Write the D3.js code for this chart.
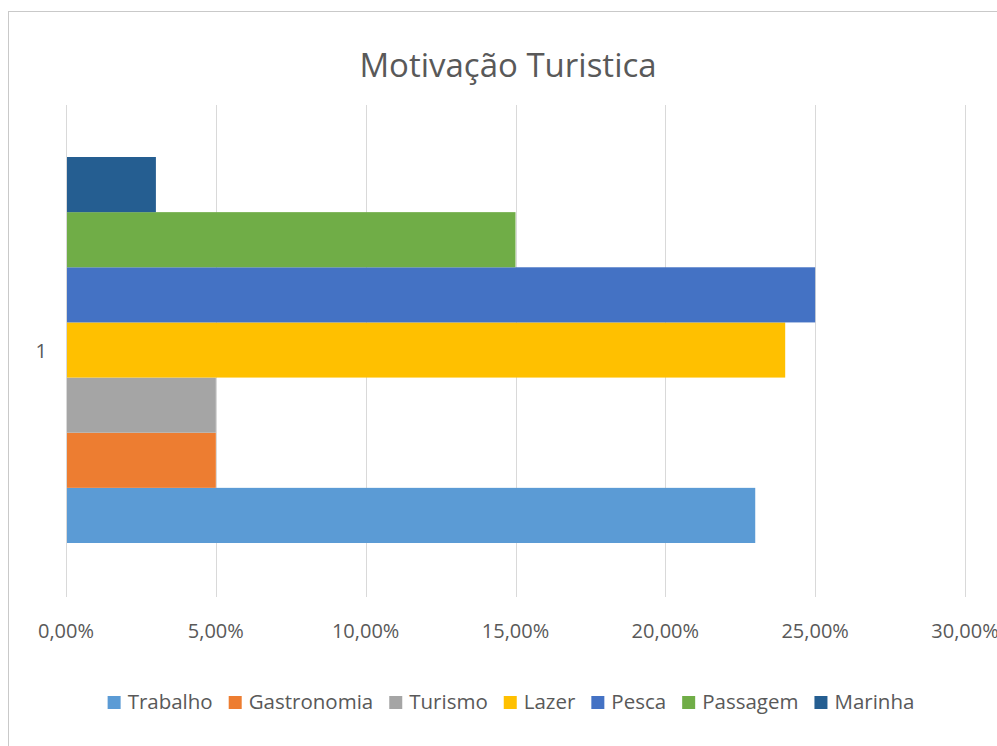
<!DOCTYPE html>
<html>
<head>
<meta charset="utf-8">
<script src="https://cdn.jsdelivr.net/npm/d3@7"></script>
<style>
  body { margin: 0; background: #fff; }
  text { font-family: "Open Sans", sans-serif; fill: #595959; }
</style>
</head>
<body>
<div id="chart"></div>
<script>
const categories = ["1"]
const series = ["Trabalho", "Gastronomia", "Turismo", "Lazer", "Pesca", "Passagem", "Marinha"]
const values = [0.23, 0.05, 0.05, 0.24, 0.25, 0.15, 0.03]
const colors = ["#5B9BD5", "#ED7D31", "#A5A5A5", "#FFC000", "#4472C4", "#70AD47", "#255E91"]
const ticks = [0, 0.05, 0.10, 0.15, 0.20, 0.25, 0.30]
const title = "Motivação Turistica"

const W = 997, H = 746
const margin = {top: 105, right: 32, bottom: 149, left: 66}
const w = W - margin.left - margin.right,
      h = H - margin.top - margin.bottom

const svg = d3.select("#chart")
    .append("svg")
    .attr("width", W)
    .attr("height", H)

// chart frame
svg.append("rect")
    .attr("x", 8.5).attr("y", 11.5)
    .attr("width", W + 20).attr("height", H + 20)
    .style("fill", "none")
    .style("stroke", "#c9c9c9")
    .style("stroke-width", 1)

svg.append("text")
    .attr("x", 508)
    .attr("y", 77)
    .attr("text-anchor", "middle")
    .style("font-size", "33px")
    .text(title)

const g = svg.append("g")
    .attr("transform", `translate(${margin.left},${margin.top})`)

const x = d3.scaleLinear().domain([0, 0.30]).range([0, w])

const y0 = d3.scaleBand().domain(categories).range([0, h])
const y1 = d3.scaleBand()
    .domain(series.slice().reverse())
    .range([52, y0.bandwidth() - 54])

// gridlines
g.append("g")
    .selectAll("line")
    .data(ticks)
    .join("line")
    .attr("x1", d => Math.round(x(d)) + 0.5)
    .attr("x2", d => Math.round(x(d)) + 0.5)
    .attr("y1", 0)
    .attr("y2", h)
    .style("stroke", "#d9d9d9")
    .style("stroke-width", 1)

const fmt = d => d3.format(".2f")(d * 100).replace(".", ",") + "%"

g.append("g")
    .selectAll("text")
    .data(ticks)
    .join("text")
    .attr("x", d => x(d))
    .attr("y", h + 41)
    .attr("text-anchor", "middle")
    .style("font-size", "20px")
    .text(fmt)

// bars
const groups = g.append("g")
    .selectAll("g")
    .data(categories)
    .join("g")
    .attr("transform", d => `translate(0,${y0(d)})`)

groups.selectAll("rect")
    .data(series.map((s, i) => ({name: s, value: values[i], color: colors[i]})))
    .join("rect")
    .attr("x", x(0))
    .attr("y", d => y1(d.name))
    .attr("width", d => x(d.value) - x(0))
    .attr("height", y1.bandwidth())
    .style("fill", d => d.color)

// axis line on left
g.append("line")
    .attr("x1", 0.5).attr("x2", 0.5)
    .attr("y1", 0).attr("y2", h)
    .style("stroke", "#d9d9d9")

g.selectAll(".cat")
    .data(categories)
    .join("text")
    .attr("class", "cat")
    .attr("x", -19)
    .attr("y", d => y0(d) + y0.bandwidth() / 2 + 7)
    .attr("text-anchor", "end")
    .style("font-size", "20px")
    .text(d => d)

// legend
const legend = svg.append("g")
const items = legend.selectAll("g")
    .data(series)
    .join("g")
items.append("rect")
    .attr("width", 13).attr("height", 13)
    .attr("y", -13)
    .style("fill", (d, i) => colors[i])
items.append("text")
    .attr("x", 20)
    .attr("y", 0)
    .style("font-size", "20.5px")
    .text(d => d)

let cx = 0
items.each(function() {
    const tw = d3.select(this).select("text").node().getComputedTextLength()
    d3.select(this).attr("transform", `translate(${cx},0)`)
    cx += 20 + tw + 16
})
const total = cx - 16
legend.attr("transform", `translate(${511 - total / 2},${709})`)
</script>
</body>
</html>
